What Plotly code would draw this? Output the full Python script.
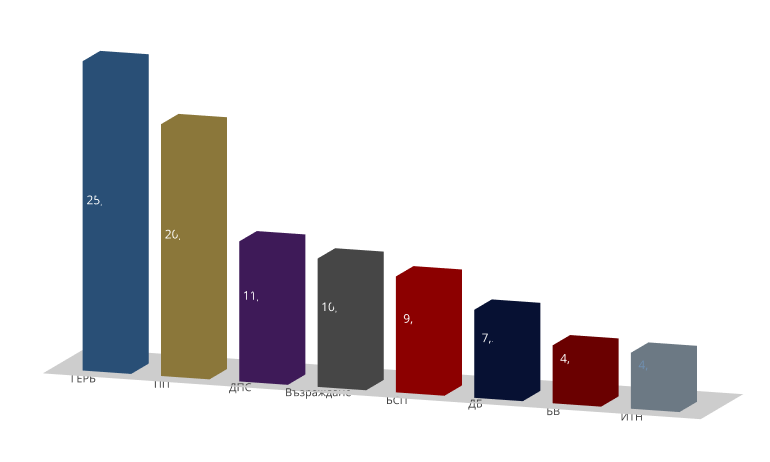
import plotly.graph_objects as go

parties = ['ГЕРБ', 'ПП', 'ДПС', 'Възраждане', 'БСП', 'ДБ', 'БВ', 'ИТН']
values = [25.64, 20.87, 11.61, 10.64, 9.61, 7.30, 4.80, 4.64]
colors = ['#4a8fd6', '#fcd96a', '#7030a0', '#7f7f7f', '#ff0000', '#0c1f5c', '#c00000', '#c5dcf0']
text_colors = ['white'] * 7 + ['#6f8fb0']

W = 0.62  # bar width/depth in category units
cube_i = [7, 0, 0, 0, 4, 4, 6, 6, 4, 0, 3, 2]
cube_j = [3, 4, 1, 2, 5, 6, 5, 2, 0, 1, 6, 3]
cube_k = [0, 7, 2, 3, 6, 7, 1, 1, 5, 5, 7, 6]

fig = go.Figure()

# floor
n = len(parties)
fig.add_trace(go.Mesh3d(x=[-0.4, n, n, -0.4], y=[-0.3, -0.3, 1.2, 1.2], z=[0, 0, 0, 0],
                        i=[0, 0], j=[1, 2], k=[2, 3], color='#d9d9d9', opacity=1,
                        flatshading=True, hoverinfo='skip',
                        lighting=dict(ambient=0.9, diffuse=0.1, specular=0)))

for idx, (p, v, c) in enumerate(zip(parties, values, colors)):
    x0 = idx
    fig.add_trace(go.Mesh3d(
        x=[x0, x0, x0 + W, x0 + W, x0, x0, x0 + W, x0 + W],
        y=[0, W, W, 0, 0, W, W, 0],
        z=[0, 0, 0, 0, v, v, v, v],
        i=cube_i, j=cube_j, k=cube_k, color=c, flatshading=True, name=p,
        lighting=dict(ambient=0.55, diffuse=0.7, specular=0.05, fresnel=0),
        lightposition=dict(x=-50000, y=-100000, z=50000)))

fig.add_trace(go.Scatter3d(
    x=[i + W / 2 for i in range(n)], y=[-0.01] * n, z=[v / 2 for v in values],
    mode='text', text=[f'{v:.2f}'.replace('.', ',') + '%' for v in values],
    textfont=dict(color=text_colors, size=12, family='Open Sans'), hoverinfo='skip'))
fig.add_trace(go.Scatter3d(
    x=[i + 0.1 for i in range(n)], y=[-0.25] * n, z=[-1.5] * n,
    mode='text', text=parties,
    textfont=dict(color='#404040', size=11, family='Open Sans'), hoverinfo='skip'))

ax = dict(visible=False, showbackground=False)
fig.update_layout(
    width=770, height=462, showlegend=False, paper_bgcolor='white',
    margin=dict(l=0, r=0, t=0, b=0),
    scene=dict(xaxis=ax, yaxis=ax, zaxis=dict(ax, range=[-3, 27]),
               aspectmode='manual', aspectratio=dict(x=3.2, y=0.6, z=1.6),
               camera=dict(eye=dict(x=0.55, y=-1.6, z=0.35), center=dict(x=0, y=0, z=0),
                           projection=dict(type='orthographic'))))
fig.write_html('out.html')
